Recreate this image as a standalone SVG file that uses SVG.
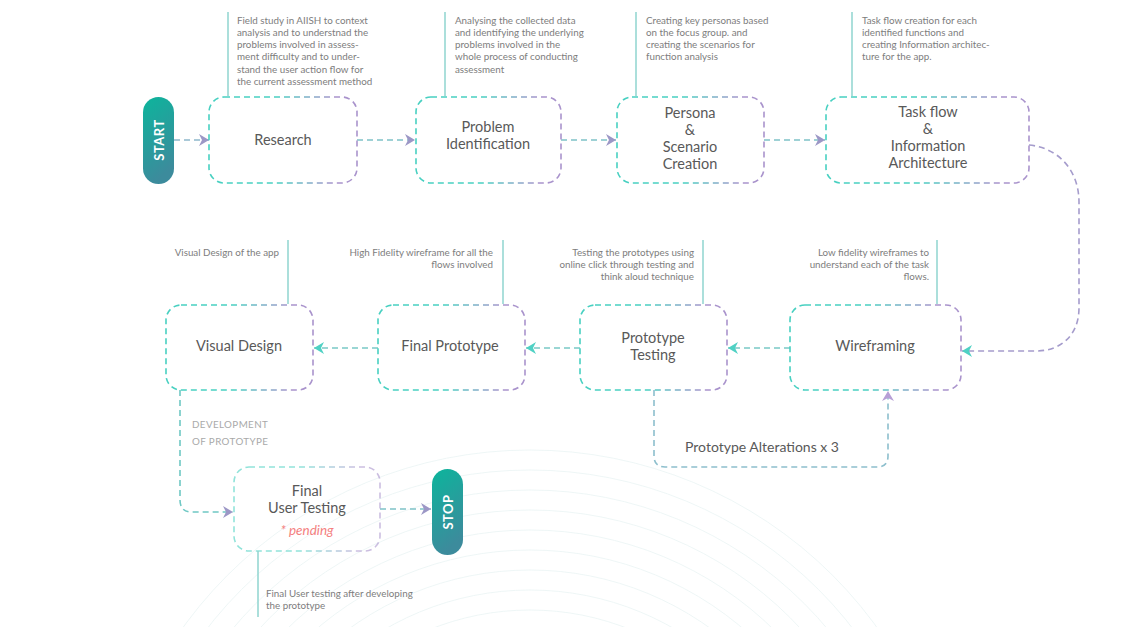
<svg xmlns="http://www.w3.org/2000/svg" width="1137" height="627" viewBox="0 0 1137 627">
<defs>
<style>
.bg{fill:none;stroke:#ecf5f5;stroke-width:0.9}
.box{fill:#fff;stroke:url(#boxg);stroke-width:1.6;stroke-dasharray:6 4}
.lbl{font-family:Lato,'Noto Sans',sans-serif;font-size:14.5px;fill:#595959;text-anchor:middle}
.ann{font-family:Lato,'Noto Sans',sans-serif;font-size:9.8px;fill:#7d7d7d}
.annr{font-family:Lato,'Noto Sans',sans-serif;font-size:9.8px;fill:#7d7d7d;text-anchor:end}
.vl{stroke:#8fd4cf;stroke-width:1.5}
.con{fill:none;stroke-width:1.6;stroke-dasharray:6 4}
.pill{font-family:Lato,'Noto Sans',sans-serif;font-size:13px;font-weight:bold;fill:#fff;text-anchor:middle;letter-spacing:0.5px}
</style>
<linearGradient id="boxg" x1="0" y1="0" x2="1" y2="0">
<stop offset="0" stop-color="#48d0c1"/><stop offset="0.45" stop-color="#48d0c1"/><stop offset="0.85" stop-color="#a993cc"/><stop offset="1" stop-color="#a993cc"/>
</linearGradient>
<linearGradient id="pillg" x1="0" y1="0" x2="0.3" y2="1">
<stop offset="0" stop-color="#0cb59c"/><stop offset="1" stop-color="#3c8b9c"/>
</linearGradient>
<marker id="ap" markerUnits="userSpaceOnUse" markerWidth="11" markerHeight="12" refX="10" refY="6" orient="auto">
<path d="M0,0 L10,6 L0,12 L3,6 z" fill="#9c97c6"/>
</marker>
<marker id="at" markerUnits="userSpaceOnUse" markerWidth="11" markerHeight="12" refX="10" refY="6" orient="auto">
<path d="M0,0 L10,6 L0,12 L3,6 z" fill="#4fd1c4"/>
</marker>
<marker id="al" markerUnits="userSpaceOnUse" markerWidth="11" markerHeight="12" refX="10" refY="6" orient="auto">
<path d="M0,0 L10,6 L0,12 L3,6 z" fill="#b79fd6"/>
</marker>
</defs>
<rect width="1137" height="627" fill="#fff"/>
<g id="background">
<circle class="bg" cx="530" cy="878" r="428"/>
<circle class="bg" cx="530" cy="878" r="408"/>
<circle class="bg" cx="530" cy="878" r="388"/>
<circle class="bg" cx="530" cy="878" r="368"/>
<circle class="bg" cx="530" cy="878" r="348"/>
<circle class="bg" cx="530" cy="878" r="328"/>
<circle class="bg" cx="530" cy="878" r="308"/>
<circle class="bg" cx="530" cy="878" r="288"/>
<circle class="bg" cx="530" cy="878" r="268"/>
</g>
<g id="connectors">
<line class="con" x1="174" y1="140" x2="209" y2="140" stroke="#8fb8cc" marker-end="url(#ap)"/>
<line class="con" x1="357" y1="140" x2="415" y2="140" stroke="#7fc2c8" marker-end="url(#ap)"/>
<line class="con" x1="561" y1="140" x2="616" y2="140" stroke="#7fc2c8" marker-end="url(#ap)"/>
<line class="con" x1="764" y1="140" x2="825" y2="140" stroke="#7fc2c8" marker-end="url(#ap)"/>
<path class="con" d="M1029,145 C1060,148 1079,172 1079,202 L1079,308 C1079,334 1062,351 1036,351 L962,351" stroke="#a59ccc" marker-end="url(#at)"/>
<line class="con" x1="790" y1="348" x2="728" y2="348" stroke="#79c9c6" marker-end="url(#at)"/>
<line class="con" x1="580" y1="348" x2="526" y2="348" stroke="#79c9c6" marker-end="url(#at)"/>
<line class="con" x1="378" y1="348" x2="314" y2="348" stroke="#79c9c6" marker-end="url(#at)"/>
<path class="con" d="M654,390 L654,456 Q654,467 665,467 L877,467 Q888,467 888,456 L888,391" stroke="#8dbfcd" marker-end="url(#al)"/>
<path class="con" d="M180,390 L180,500 Q180,512 192,512 L233,512" stroke="#6fc8c4" marker-end="url(#ap)"/>
<line class="con" x1="380" y1="509" x2="431" y2="509" stroke="#7fc2c8" marker-end="url(#ap)"/>
</g>
<g id="start">
<rect x="143" y="97" width="31" height="87" rx="15.5" fill="url(#pillg)"/>
<text class="pill" transform="translate(163.5,140) rotate(-90)">START</text>
</g>
<g id="research">
<line class="vl" x1="228" y1="12" x2="228" y2="96"/>
<text class="ann" x="237" y="23.5">Field study in AIISH to context</text>
<text class="ann" x="237" y="35.8">analysis and to understnad the</text>
<text class="ann" x="237" y="48.1">problems involved in assess-</text>
<text class="ann" x="237" y="60.4">ment difficulty and to under-</text>
<text class="ann" x="237" y="72.7">stand the user action flow for</text>
<text class="ann" x="237" y="85">the current assessment method</text>
<rect class="box" x="209" y="97" width="148" height="86" rx="15"/>
<text class="lbl" x="283" y="145">Research</text>
</g>
<g id="problem">
<line class="vl" x1="445" y1="12" x2="445" y2="96"/>
<text class="ann" x="455" y="23.5">Analysing the collected data</text>
<text class="ann" x="455" y="35.8">and identifying the underlying</text>
<text class="ann" x="455" y="48.1">problems involved in the</text>
<text class="ann" x="455" y="60.4">whole process of conducting</text>
<text class="ann" x="455" y="72.7">assessment</text>
<rect class="box" x="416" y="97" width="145" height="86" rx="15"/>
<text class="lbl" x="488" y="132">Problem</text>
<text class="lbl" x="488" y="149">Identification</text>
</g>
<g id="persona">
<line class="vl" x1="636" y1="12" x2="636" y2="96"/>
<text class="ann" x="646" y="23.5">Creating key personas based</text>
<text class="ann" x="646" y="35.8">on the focus group. and</text>
<text class="ann" x="646" y="48.1">creating the scenarios for</text>
<text class="ann" x="646" y="60.4">function analysis</text>
<rect class="box" x="617" y="97" width="147" height="86" rx="15"/>
<text class="lbl" x="690" y="118">Persona</text>
<text class="lbl" x="690" y="135">&amp;</text>
<text class="lbl" x="690" y="152">Scenario</text>
<text class="lbl" x="690" y="169">Creation</text>
</g>
<g id="taskflow">
<line class="vl" x1="852" y1="12" x2="852" y2="96"/>
<text class="ann" x="862" y="23.5">Task flow creation for each</text>
<text class="ann" x="862" y="35.8">identified functions and</text>
<text class="ann" x="862" y="48.1">creating Information architec-</text>
<text class="ann" x="862" y="60.4">ture for the app.</text>
<rect class="box" x="826" y="97" width="203" height="86" rx="15"/>
<text class="lbl" x="928" y="117">Task flow</text>
<text class="lbl" x="928" y="134">&amp;</text>
<text class="lbl" x="928" y="151">Information</text>
<text class="lbl" x="928" y="168">Architecture</text>
</g>
<g id="wireframing">
<line class="vl" x1="937" y1="240" x2="937" y2="304"/>
<text class="annr" x="929" y="255.5">Low fidelity wireframes to</text>
<text class="annr" x="929" y="267.5">understand each of the task</text>
<text class="annr" x="929" y="279.5">flows.</text>
<rect class="box" x="790" y="305" width="171" height="85" rx="15"/>
<text class="lbl" x="875" y="351">Wireframing</text>
</g>
<g id="prototype-testing">
<line class="vl" x1="703" y1="240" x2="703" y2="304"/>
<text class="annr" x="694" y="255.5">Testing the prototypes using</text>
<text class="annr" x="694" y="267.5">online click through testing and</text>
<text class="annr" x="694" y="279.5">think aloud technique</text>
<rect class="box" x="580" y="305" width="147" height="85" rx="15"/>
<text class="lbl" x="653" y="343">Prototype</text>
<text class="lbl" x="653" y="360">Testing</text>
<text class="lbl" x="762" y="452" style="font-size:14px">Prototype Alterations x 3</text>
</g>
<g id="final-prototype">
<line class="vl" x1="503" y1="240" x2="503" y2="304"/>
<text class="annr" x="493" y="255.5">High Fidelity wireframe for all the</text>
<text class="annr" x="493" y="267.5">flows involved</text>
<rect class="box" x="378" y="305" width="147" height="85" rx="15"/>
<text class="lbl" x="450" y="351">Final Prototype</text>
</g>
<g id="visual-design">
<line class="vl" x1="288" y1="240" x2="288" y2="304"/>
<text class="annr" x="279" y="255.5">Visual Design of the app</text>
<rect class="box" x="166" y="305" width="147" height="85" rx="15"/>
<text class="lbl" x="239" y="351">Visual Design</text>
<text class="ann" x="192" y="427.5" style="fill:#a9a9a9;letter-spacing:0.4px">DEVELOPMENT</text>
<text class="ann" x="192" y="444.5" style="fill:#a9a9a9;letter-spacing:0.4px">OF PROTOTYPE</text>
</g>
<g id="final-user-testing">
<rect class="box" x="234" y="467" width="146" height="84" rx="15" style="fill:none;opacity:0.6"/>
<text class="lbl" x="307" y="496">Final</text>
<text class="lbl" x="307" y="513">User Testing</text>
<text class="lbl" x="307" y="535" style="fill:#f47f7f;font-style:italic;font-size:13.5px">* pending</text>
<line class="vl" x1="258" y1="551" x2="258" y2="617"/>
<text class="ann" x="266" y="596.5">Final User testing after developing</text>
<text class="ann" x="266" y="609">the prototype</text>
</g>
<g id="stop">
<rect x="432" y="469" width="31" height="86" rx="15.5" fill="url(#pillg)"/>
<text class="pill" transform="translate(452.5,512) rotate(-90)">STOP</text>
</g>
</svg>
